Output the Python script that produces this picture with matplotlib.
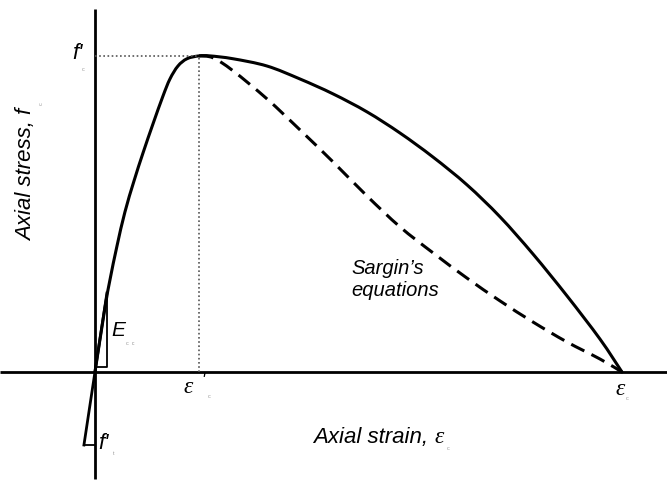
import matplotlib
matplotlib.use("Agg")
import matplotlib.pyplot as plt
import numpy as np
from matplotlib.path import Path
from matplotlib.patches import PathPatch

# Normalised coordinates: strain in units of peak strain eps'_c, stress in units of f'_c
peak_strain = 1.0
peak_stress = 1.0
ultimate_strain = 5.067
tension_strain = -0.106
tension_stress = -0.231
initial_modulus = 2.17          # slope of the tangent at the origin (normalised)

# Ascending branch (common to both models)
asc_strain = [0.0, 0.096, 0.144, 0.212, 0.288, 0.375, 0.462, 0.558, 0.654, 0.721,
              0.798, 0.885, 1.0]
asc_stress = [0.0, 0.203, 0.291, 0.399, 0.506, 0.604, 0.693, 0.785, 0.873, 0.927,
              0.968, 0.991, 1.0]

# Descending branch, proposed curve (solid)
desc_strain = [1.106, 1.327, 1.654, 1.971, 2.288, 2.615, 2.933, 3.250, 3.577, 3.894,
               4.212, 4.538, 4.856, 5.067]
desc_stress = [1.0, 0.991, 0.968, 0.927, 0.880, 0.823, 0.756, 0.680, 0.592, 0.491,
               0.373, 0.241, 0.104, 0.0]

# Descending branch, Sargin's equations (dashed)
sargin_strain = [1.0, 1.135, 1.327, 1.654, 1.971, 2.288, 2.615, 2.933, 3.250, 3.577,
                 3.894, 4.212, 4.538, 4.856, 5.067]
sargin_stress = [1.0, 0.994, 0.953, 0.864, 0.766, 0.665, 0.557, 0.459, 0.377, 0.297,
                 0.225, 0.158, 0.095, 0.041, 0.0]


def smooth_path(xs, ys):
    """Cubic Bezier path passing through every point (Catmull-Rom tangents)."""
    p = np.column_stack([xs, ys]).astype(float)
    ext = np.vstack([p[0], p, p[-1]])
    verts = [p[0]]
    codes = [Path.MOVETO]
    for i in range(len(p) - 1):
        a, b, c, d = ext[i], ext[i + 1], ext[i + 2], ext[i + 3]
        verts += [b + (c - a) / 6.0, c - (d - b) / 6.0, c]
        codes += [Path.CURVE4] * 3
    return Path(verts, codes)


fig = plt.figure(figsize=(6.67, 4.89), dpi=100)
ax = fig.add_axes([0, 0, 1, 1])
ax.set_xlim(-0.913, 5.5)
ax.set_ylim(-0.367, 1.180)
ax.axis("off")

sans = "Liberation Sans"
serif = "Liberation Serif"
sub_kw = dict(fontsize=4, color="#999999", family=sans)
lab_kw = dict(fontsize=16, style="italic", family=sans)
eps_kw = dict(fontsize=17, style="italic", family=serif)

# Axes
ax.plot([-0.913, 5.5], [0, 0], color="black", lw=2.0, solid_capstyle="butt")
ax.plot([0, 0], [-0.339, 1.149], color="black", lw=2.0, solid_capstyle="butt")

# Guide lines to the peak
guide = dict(color="#555555", lw=1.2, linestyle=(0, (1, 1.5)))
ax.plot([0, peak_strain], [peak_stress, peak_stress], **guide)
ax.plot([peak_strain, peak_strain], [0, peak_stress], **guide)

# Curves
solid = smooth_path(asc_strain + desc_strain, asc_stress + desc_stress)
ax.add_patch(PathPatch(solid, fill=False, edgecolor="black", lw=2.2, capstyle="round"))
dashed = smooth_path(sargin_strain, sargin_stress)
ax.add_patch(PathPatch(dashed, fill=False, edgecolor="black", lw=2.2,
                       linestyle=(0, (4.8, 2.6))))

# Tension branch and initial tangent
tan_top = 0.115
ax.plot([tension_strain, 0, tan_top],
        [tension_stress, 0, initial_modulus * tan_top], color="black", lw=2.0)
ax.plot([tension_strain, 0], [tension_stress, tension_stress], color="black", lw=1.3)

# Modulus triangle
ax.plot([0.01, tan_top, tan_top], [0.016, 0.016, initial_modulus * tan_top],
        color="black", lw=1.3)

# Labels
ax.text(-0.115, 1.01, "f'", ha="right", va="center", **lab_kw)
ax.text(-0.13, 0.955, "c", **sub_kw)
ax.text(0.16, 0.136, "E", ha="left", va="center", fontsize=15, style="italic", family=sans)
ax.text(0.30, 0.09, "c  c", **sub_kw)
ax.text(0.03, -0.222, "f'", ha="left", va="center", **lab_kw)
ax.text(0.17, -0.26, "t", **sub_kw)

ax.text(0.90, -0.045, "ε", ha="center", va="center", **eps_kw)
ax.text(1.04, -0.025, "'", ha="center", va="center", fontsize=12, style="italic",
        family=sans)
ax.text(1.08, -0.08, "c", **sub_kw)

ax.text(5.05, -0.052, "ε", ha="center", va="center", **eps_kw)
ax.text(5.1, -0.085, "c", **sub_kw)

xl = ax.text(2.096, -0.203, "Axial strain, ", ha="left", va="center", **lab_kw)
ax.annotate("ε", xy=(1.0, 0.5), xycoords=xl, ha="left", va="center", **eps_kw)
ax.text(3.38, -0.245, "c", **sub_kw)

ax.text(-0.654, 0.627, "Axial stress, f", rotation=90, ha="center", va="center", **lab_kw)
ax.text(-0.54, 0.85, "c", rotation=90, **sub_kw)

ax.text(2.462, 0.297, "Sargin\u2019s\nequations", fontsize=14.5, style="italic",
        family=sans, ha="left", va="center", linespacing=1.2)

fig.savefig("out.png", dpi=100)
